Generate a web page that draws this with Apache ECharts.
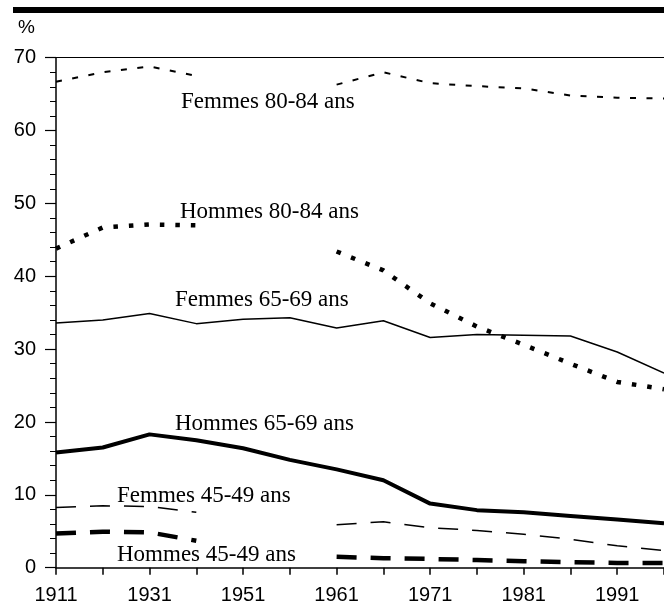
<!DOCTYPE html>
<html>
<head>
<meta charset="utf-8">
<script src="https://cdn.jsdelivr.net/npm/echarts@6/dist/echarts.min.js"></script>
<style>
  html, body { margin: 0; padding: 0; background: #fff; }
  #chart { width: 664px; height: 606px; }
</style>
</head>
<body>
<div id="chart"></div>
<script>
  // années (une étiquette sur deux est affichée)
  var years = ['1911', '1921', '1931', '1941', '1951', '1956', '1961', '1966', '1971', '1976', '1981', '1986', '1991', '1996']
  var yTicks = [0, 10, 20, 30, 40, 50, 60, 70]

  var femmes8084 = [66.7, 68.0, 68.8, 67.5, null, null, 66.3, 68.0, 66.5, 66.1, 65.8, 64.8, 64.5, 64.4]
  var hommes8084 = [43.8, 46.7, 47.1, 47.0, null, null, 43.4, 40.8, 36.3, 33.1, 30.6, 28.0, 25.5, 24.5]
  var femmes6569 = [33.6, 34.0, 34.9, 33.5, 34.1, 34.3, 32.9, 33.9, 31.6, 32.0, 31.9, 31.8, 29.6, 26.7]
  var hommes6569 = [15.8, 16.5, 18.3, 17.5, 16.4, 14.8, 13.5, 12.0, 8.8, 7.9, 7.6, 7.1, 6.6, 6.1]
  var femmes4549 = [8.25, 8.5, 8.4, 7.6, null, null, 5.9, 6.3, 5.5, 5.1, 4.6, 3.9, 3.0, 2.35]
  var hommes4549 = [4.7, 4.95, 4.85, 3.7, null, null, 1.5, 1.3, 1.2, 1.05, 0.9, 0.75, 0.65, 0.65]

  var labelFont = '23px "Liberation Serif", serif'
  var tickFont = '"Liberation Sans", sans-serif'

  function serie(name, data, width, dash) {
    return {
      name: name,
      type: 'line',
      data: data,
      symbol: 'none',
      connectNulls: false,
      lineStyle: { color: '#000', width: width, type: dash || 'solid', cap: 'butt' },
      animation: false
    }
  }

  var chart = echarts.init(document.getElementById('chart'))
  chart.setOption({
    animation: false,
    grid: { left: 56, right: 0, top: 57.7, bottom: 38.3 },
    xAxis: [{
      type: 'category',
      data: years,
      boundaryGap: false,
      axisLine: { lineStyle: { color: '#000', width: 1.5 } },
      axisTick: { interval: 0, length: 7, lineStyle: { color: '#000', width: 1.5 } },
      axisLabel: { interval: 1, margin: 18, color: '#000', fontSize: 20, fontFamily: tickFont }
    }, {
      type: 'category',
      data: years,
      position: 'top',
      boundaryGap: false,
      axisLine: { lineStyle: { color: '#000', width: 1 } },
      axisTick: { show: false },
      axisLabel: { show: false }
    }],
    yAxis: {
      type: 'value',
      min: yTicks[0],
      max: yTicks[yTicks.length - 1],
      interval: 10,
      axisLine: { show: true, lineStyle: { color: '#000', width: 1.5 } },
      axisTick: { show: true, inside: false, length: 11, lineStyle: { color: '#000', width: 1.2 } },
      minorTick: { show: true, splitNumber: 5, length: 6, lineStyle: { color: '#000', width: 1 } },
      splitLine: { show: false },
      axisLabel: { margin: 20, color: '#000', fontSize: 20, fontFamily: tickFont }
    },
    graphic: [
      { type: 'rect', shape: { x: 13, y: 7, width: 651, height: 6 }, style: { fill: '#000' } },
      { type: 'text', style: { x: 18, y: 28, text: '%', font: '19px "Liberation Sans", sans-serif', fill: '#000', textVerticalAlign: 'middle' } },
      { type: 'text', style: { x: 181, y: 102, text: 'Femmes 80-84 ans', font: labelFont, fill: '#000', textVerticalAlign: 'middle' } },
      { type: 'text', style: { x: 180, y: 212, text: 'Hommes 80-84 ans', font: labelFont, fill: '#000', textVerticalAlign: 'middle' } },
      { type: 'text', style: { x: 175, y: 300, text: 'Femmes 65-69 ans', font: labelFont, fill: '#000', textVerticalAlign: 'middle' } },
      { type: 'text', style: { x: 175, y: 424, text: 'Hommes 65-69 ans', font: labelFont, fill: '#000', textVerticalAlign: 'middle' } },
      { type: 'text', style: { x: 117, y: 496, text: 'Femmes 45-49 ans', font: labelFont, fill: '#000', textVerticalAlign: 'middle' } },
      { type: 'text', style: { x: 117, y: 555, text: 'Hommes 45-49 ans', font: labelFont, fill: '#000', textVerticalAlign: 'middle' } }
    ],
    series: [
      serie('Femmes 80-84 ans', femmes8084, 2, [6, 10.5]),
      serie('Hommes 80-84 ans', hommes8084, 4.5, [4.5, 11]),
      serie('Femmes 65-69 ans', femmes6569, 1.5),
      serie('Hommes 65-69 ans', hommes6569, 4),
      serie('Femmes 45-49 ans', femmes4549, 1.5, [20, 14]),
      serie('Hommes 45-49 ans', hommes4549, 4.5, [20, 14])
    ]
  })
</script>
</body>
</html>
